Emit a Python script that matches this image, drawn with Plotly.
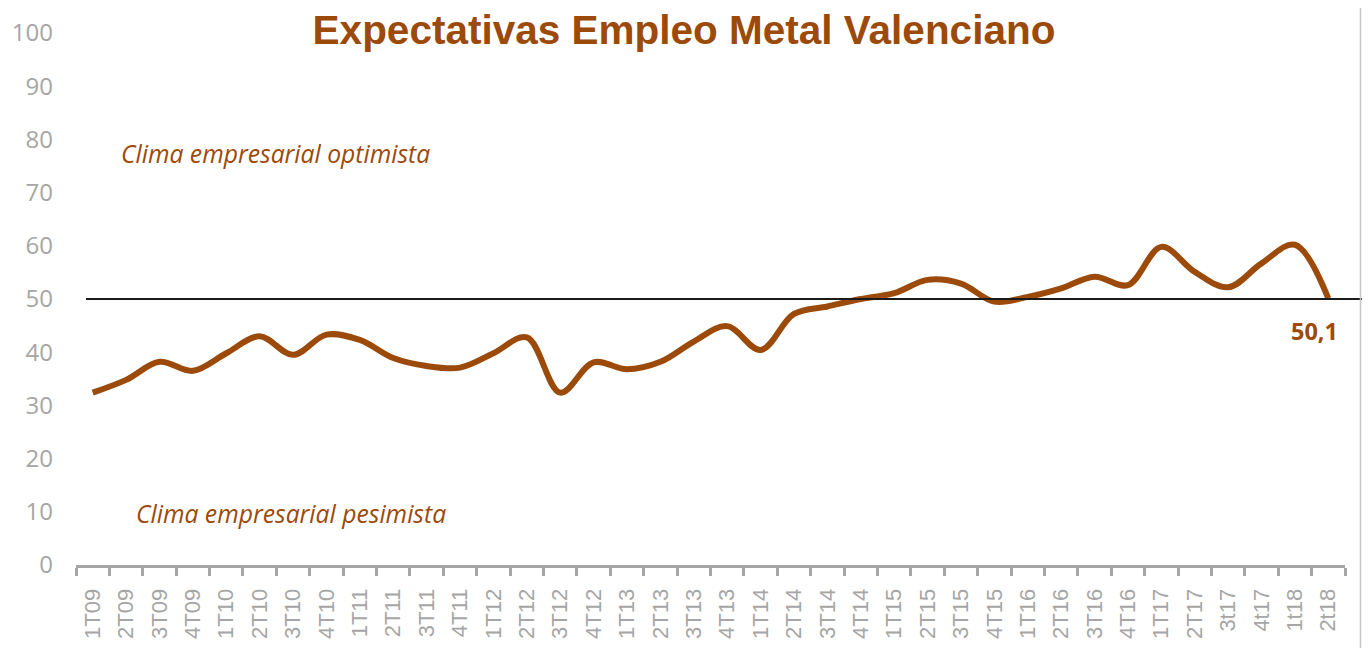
import plotly.graph_objects as go

# ---- data ----
categories = ["1T09", "2T09", "3T09", "4T09", "1T10", "2T10", "3T10", "4T10",
              "1T11", "2T11", "3T11", "4T11", "1T12", "2T12", "3T12", "4T12",
              "1T13", "2T13", "3T13", "4T13", "1T14", "2T14", "3T14", "4T14",
              "1T15", "2T15", "3T15", "4T15", "1T16", "2T16", "3T16", "4T16",
              "1T17", "2T17", "3t17", "4t17", "1t18", "2t18"]
expectativas = [32.4, 34.8, 38.2, 36.5, 39.8, 43.0, 39.5, 43.3,
                42.3, 38.9, 37.4, 37.1, 39.8, 42.8, 32.4, 38.1,
                36.8, 38.2, 42.0, 44.9, 40.4, 47.2, 48.6, 50.0,
                51.1, 53.6, 52.9, 49.5, 50.4, 52.0, 54.2, 52.6,
                59.8, 55.1, 52.2, 56.7, 60.2, 50.1]
threshold = 50
y_ticks = [0, 10, 20, 30, 40, 50, 60, 70, 80, 90, 100]
last_label = "50,1"

BROWN = "#9C4A0A"
GRAY = "#A6A6A6"

fig = go.Figure()
fig.add_trace(go.Scatter(
    x=categories, y=expectativas, mode="lines",
    line=dict(color=BROWN, width=6, shape="spline", smoothing=1.0),
    showlegend=False, hoverinfo="x+y",
))

W, H = 1370, 648
OFF = 8  # page body offset
# plot area in screen pixels: x 76..1345, y 33..565
ml = 76 - OFF
mt = 33 - OFF
mr = W - (1345 - OFF)
mb = H - (565 - OFF)
pw = W - ml - mr

def px(xscreen):
    return (xscreen - OFF - ml) / pw

fig.update_layout(
    width=W, height=H,
    margin=dict(l=ml, r=mr, t=mt, b=mb, autoexpand=False),
    paper_bgcolor="white", plot_bgcolor="white",
    showlegend=False,
    xaxis=dict(
        type="category", tickangle=-90, tickson="boundaries",
        ticks="outside", ticklen=8, tickwidth=3, tickcolor=GRAY,
        showline=True, linecolor=GRAY, linewidth=3,
        showgrid=False, zeroline=False, automargin=False,
        ticklabelstandoff=12,
        tickfont=dict(family="Liberation Sans", size=22, color=GRAY),
        range=[-0.5, len(categories) - 0.5],
    ),
    yaxis=dict(
        range=[0, 100], tickvals=y_ticks, showgrid=False, zeroline=False,
        showline=False, ticks="", automargin=False, ticklabelstandoff=22,
        tickfont=dict(family="Open Sans", size=24, color=GRAY),
    ),
    title=dict(
        text="<b>Expectativas Empleo Metal Valenciano</b>",
        x=676 / W, xanchor="center", xref="container",
        y=1 - 22 / H, yanchor="middle", yref="container",
        font=dict(family="Liberation Sans", size=40.5, color=BROWN),
    ),
)

# reference line at 50 (extends past the plot area to the right edge)
fig.add_shape(type="line", xref="paper", yref="y",
              x0=px(86), x1=px(1380), y0=threshold, y1=threshold,
              line=dict(color="#1a1a1a", width=2))
# chart border on the right
fig.add_shape(type="line", xref="paper", yref="paper",
              x0=px(1360.5), x1=px(1360.5), y0=-1, y1=2,
              line=dict(color="#C8C8C8", width=1.5))

fig.add_annotation(text="<i>Clima empresarial optimista</i>",
                   xref="paper", yref="y", x=px(119), y=77.3,
                   xanchor="left", yanchor="middle", showarrow=False,
                   font=dict(family="Open Sans", size=24.7, color=BROWN))
fig.add_annotation(text="<i>Clima empresarial pesimista</i>",
                   xref="paper", yref="y", x=px(134), y=9.6,
                   xanchor="left", yanchor="middle", showarrow=False,
                   font=dict(family="Open Sans", size=24.7, color=BROWN))
fig.add_annotation(text="<b>" + last_label + "</b>",
                   x=categories[-1], y=expectativas[-1], xref="x", yref="y",
                   xanchor="center", yanchor="middle", showarrow=False,
                   xshift=-14, yshift=-33,
                   font=dict(family="Open Sans", size=23.5, color=BROWN))

fig.write_html("out.html")
